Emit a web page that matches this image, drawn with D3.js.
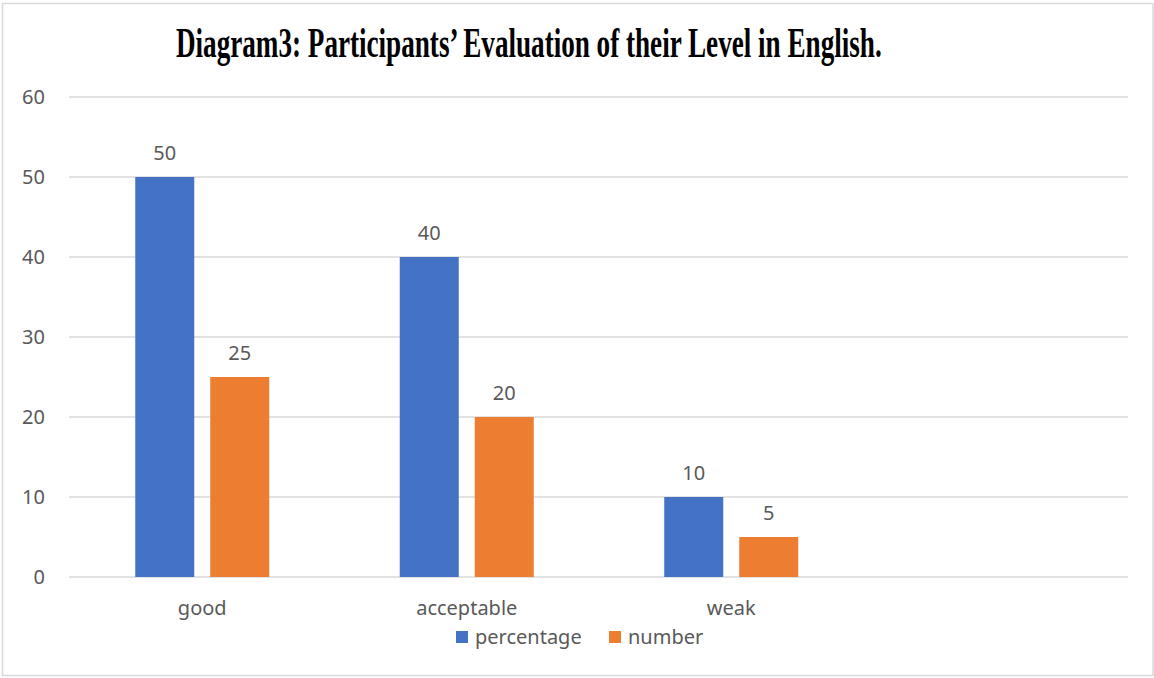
<!DOCTYPE html>
<html>
<head>
<meta charset="utf-8">
<script src="https://cdn.jsdelivr.net/npm/d3@7"></script>
<style>
  body { margin: 0; background: #fff; }
  svg text { font-family: "Noto Sans", "Open Sans", sans-serif; fill: #595959; }
</style>
</head>
<body>
<svg width="1154" height="678"></svg>
<script>
// chart data
const categories = ["good", "acceptable", "weak", ""];   // last slot is left empty
const seriesNames = ["percentage", "number"];
const percentage = [50, 40, 10];
const number = [25, 20, 5];
const yTicks = [0, 10, 20, 30, 40, 50, 60];

const colors = { percentage: "#4472C4", number: "#ED7D31" };

const svg = d3.select("svg")
const width = +svg.attr("width")
const height = +svg.attr("height")

// outer frame
svg.append("rect")
    .attr("x", 2.5).attr("y", 3.5)
    .attr("width", width - 3.5).attr("height", height - 6)
    .attr("fill", "#fff")
    .attr("stroke", "#d9d9d9")
    .attr("stroke-width", 1.5);

// title, condensed bold serif: squeezed horizontally to fit its box
const titleLeft = 176, titleWidth = 706;
const title = svg.append("text")
    .style("font-family", "'Liberation Serif', 'DejaVu Serif', serif")
    .style("font-weight", "bold")
    .style("font-size", "43px")
    .style("fill", "#000")
    .text("Diagram3:  Participants’  Evaluation  of their Level in English.");
const naturalWidth = title.node().getComputedTextLength();
const sx = titleWidth / naturalWidth;
title.attr("transform", `translate(${titleLeft},57) scale(${sx},1)`);

const plot = { left: 70, right: 1128, top: 97, bottom: 577 };

const y = d3.scaleLinear()
    .domain([0, 60])
    .range([plot.bottom, plot.top]);

const x0 = d3.scaleBand()
    .domain(categories)
    .range([plot.left, plot.right])
    .padding(0);

const x1 = d3.scaleBand()
    .domain(seriesNames)
    .range([0, x0.bandwidth()])
    .paddingInner(16 / 75)
    .paddingOuter(0.87);

// gridlines
svg.append("g")
    .selectAll("line")
    .data(yTicks)
    .join("line")
    .attr("x1", plot.left - 1).attr("x2", plot.right)
    .attr("y1", d => y(d)).attr("y2", d => y(d))
    .attr("stroke", "#d9d9d9")
    .attr("stroke-width", 1.5);

// y axis labels
svg.append("g")
    .selectAll("text")
    .data(yTicks)
    .join("text")
    .attr("x", 45)
    .attr("y", d => y(d))
    .attr("dy", "0.36em")
    .attr("text-anchor", "end")
    .style("font-size", "20px")
    .text(d => d);

// bars
const rows = categories.slice(0, 3).map((c, i) => ({
    cat: c,
    values: [
        { key: "percentage", value: percentage[i] },
        { key: "number", value: number[i] }
    ]
}));

const groups = svg.append("g")
    .selectAll("g")
    .data(rows)
    .join("g")
    .attr("transform", d => `translate(${x0(d.cat)},0)`);

groups.selectAll("rect")
    .data(d => d.values)
    .join("rect")
    .attr("x", d => x1(d.key))
    .attr("y", d => y(d.value))
    .attr("width", x1.bandwidth())
    .attr("height", d => y(0) - y(d.value))
    .attr("fill", d => colors[d.key]);

// value labels over bars
groups.selectAll("text")
    .data(d => d.values)
    .join("text")
    .attr("x", d => x1(d.key) + x1.bandwidth() / 2)
    .attr("y", d => y(d.value) - 17)
    .attr("text-anchor", "middle")
    .style("font-size", "20px")
    .text(d => d.value);

// category labels
svg.append("g")
    .selectAll("text")
    .data(categories)
    .join("text")
    .attr("x", d => x0(d) + x0.bandwidth() / 2)
    .attr("y", 615)
    .attr("text-anchor", "middle")
    .style("font-size", "20px")
    .text(d => d);

// legend
const legend = svg.append("g");
const legendItems = [
    { key: "percentage", x: 456 },
    { key: "number", x: 609 }
];
legend.selectAll("rect")
    .data(legendItems)
    .join("rect")
    .attr("x", d => d.x).attr("y", 631)
    .attr("width", 12).attr("height", 12)
    .attr("fill", d => colors[d.key]);
legend.selectAll("text")
    .data(legendItems)
    .join("text")
    .attr("x", d => d.x + 19)
    .attr("y", 644)
    .style("font-size", "20px")
    .text(d => d.key);
</script>
</body>
</html>
